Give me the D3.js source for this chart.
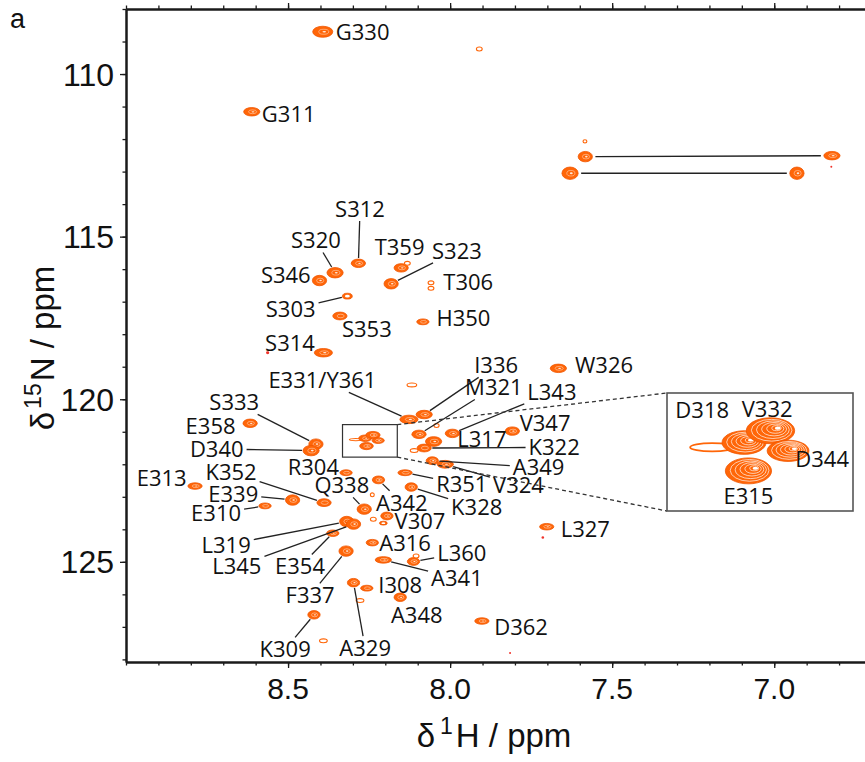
<!DOCTYPE html>
<html>
<head>
<meta charset="utf-8">
<script src="https://cdn.jsdelivr.net/npm/d3@7"></script>
<style>
body{margin:0;background:#fff}
svg{display:block}
</style>
</head>
<body>
<svg id="main-vis" width="865" height="762"></svg>
<script>
var width = 865, height = 762;
var margin = ({top: 9, right: 0, bottom: 100, left: 126});

// peaks: [name, 1H ppm, 15N ppm, half width 1H (ppm), half width 15N (ppm), contour level]
// level: -1 tiny red, 0 open contour, 1 ring, 2-4 filled with inner contours
var peaks = [
  ["G330", 8.393, 108.70, 0.031, 0.17, 3],
  ["u1", 7.910, 109.23, 0.009, 0.06, 0],
  ["G311", 8.612, 111.16, 0.025, 0.13, 3],
  ["u2", 7.584, 112.07, 0.006, 0.05, 0],
  ["sc1a", 7.583, 112.54, 0.022, 0.16, 3],
  ["sc2a", 7.630, 113.05, 0.025, 0.19, 3],
  ["sc1b", 6.822, 112.51, 0.025, 0.13, 3],
  ["u3", 6.824, 112.85, 0.003, 0.03, -1],
  ["sc2b", 6.930, 113.05, 0.022, 0.19, 3],
  ["S312", 8.283, 115.82, 0.022, 0.13, 3],
  ["S320", 8.355, 116.11, 0.025, 0.16, 3],
  ["S346", 8.403, 116.35, 0.022, 0.16, 3],
  ["T359", 8.151, 115.96, 0.022, 0.13, 3],
  ["u4", 8.132, 115.82, 0.009, 0.06, 0],
  ["S323", 8.182, 116.45, 0.022, 0.16, 3],
  ["T306", 8.059, 116.42, 0.009, 0.06, 0],
  ["u5", 8.059, 116.59, 0.009, 0.06, 0],
  ["S303", 8.317, 116.83, 0.015, 0.09, 1],
  ["S353", 8.340, 117.44, 0.022, 0.12, 2],
  ["H350", 8.084, 117.62, 0.019, 0.09, 2],
  ["S314", 8.391, 118.57, 0.028, 0.13, 3],
  ["u6", 8.563, 118.57, 0.005, 0.045, -1],
  ["u7", 8.118, 119.56, 0.015, 0.06, 0],
  ["E331", 8.127, 120.62, 0.028, 0.13, 3],
  ["I336", 8.080, 120.47, 0.025, 0.13, 3],
  ["u8", 8.042, 120.81, 0.008, 0.06, 0],
  ["M321", 8.096, 121.08, 0.022, 0.13, 3],
  ["L317", 7.993, 121.05, 0.022, 0.13, 3],
  ["V347", 7.808, 120.98, 0.022, 0.13, 3],
  ["u9", 8.051, 121.30, 0.025, 0.15, 3],
  ["K322", 8.080, 121.50, 0.022, 0.12, 2],
  ["u10", 8.111, 121.58, 0.012, 0.06, 0],
  ["A349", 8.055, 121.89, 0.019, 0.12, 3],
  ["V324", 8.015, 122.00, 0.025, 0.12, 3],
  ["W326", 7.666, 119.05, 0.025, 0.13, 3],
  ["S333", 8.414, 121.38, 0.022, 0.16, 3],
  ["D340", 8.429, 121.58, 0.025, 0.16, 3],
  ["E358", 8.617, 120.74, 0.022, 0.13, 3],
  ["R304", 8.321, 122.26, 0.019, 0.09, 2],
  ["E313", 8.787, 122.67, 0.022, 0.10, 3],
  ["K352", 8.389, 123.18, 0.022, 0.12, 2],
  ["E339", 8.486, 123.10, 0.022, 0.16, 3],
  ["Q338", 8.265, 123.38, 0.022, 0.16, 3],
  ["A342", 8.221, 122.48, 0.019, 0.12, 3],
  ["u11", 8.240, 122.94, 0.006, 0.06, 0],
  ["R351", 8.139, 122.26, 0.022, 0.09, 2],
  ["K328", 8.120, 122.70, 0.019, 0.13, 3],
  ["E310", 8.571, 123.28, 0.019, 0.09, 2],
  ["V307", 8.195, 123.59, 0.019, 0.12, 3],
  ["u12", 8.237, 123.69, 0.009, 0.06, 0],
  ["u13", 8.206, 123.81, 0.012, 0.06, 1],
  ["L319", 8.319, 123.76, 0.022, 0.16, 3],
  ["L345", 8.298, 123.84, 0.022, 0.16, 3],
  ["E354", 8.362, 124.12, 0.019, 0.10, 3],
  ["A316", 8.240, 124.41, 0.019, 0.10, 3],
  ["F337", 8.321, 124.67, 0.022, 0.16, 3],
  ["L360", 8.113, 124.99, 0.019, 0.12, 3],
  ["u14", 8.105, 124.82, 0.009, 0.06, 0],
  ["A341", 8.206, 124.94, 0.025, 0.10, 3],
  ["A329", 8.298, 125.64, 0.019, 0.13, 3],
  ["I308", 8.257, 125.81, 0.019, 0.09, 2],
  ["u15", 8.278, 126.19, 0.012, 0.06, 0],
  ["A348", 8.154, 126.09, 0.019, 0.13, 3],
  ["K309", 8.420, 126.63, 0.019, 0.13, 3],
  ["u16", 8.391, 127.43, 0.012, 0.06, 0],
  ["D362", 7.902, 126.82, 0.022, 0.10, 3],
  ["L327", 7.702, 123.92, 0.022, 0.10, 3],
  ["u17", 7.714, 124.25, 0.004, 0.04, -1],
  ["u18", 7.815, 127.80, 0.003, 0.03, -1],
  ["u19", 8.291, 121.24, 0.020, 0.035, 0],
  ["D318", 8.262, 121.20, 0.020, 0.10, 4],
  ["V332", 8.238, 121.10, 0.022, 0.11, 4],
  ["D344", 8.222, 121.27, 0.019, 0.09, 4],
  ["E315", 8.258, 121.44, 0.021, 0.11, 4]
];

// assignment labels: [text, 1H ppm, 15N ppm, peak pointed at]
var labels = [
  ["G330", 8.270, 108.72, null],
  ["G311", 8.498, 111.23, null],
  ["S312", 8.278, 114.15, "S312"],
  ["S320", 8.414, 115.12, "S320"],
  ["S346", 8.507, 116.19, null],
  ["T359", 8.156, 115.33, null],
  ["S323", 7.979, 115.44, "S323"],
  ["T306", 7.944, 116.41, null],
  ["S303", 8.492, 117.23, "S303"],
  ["S353", 8.257, 117.84, null],
  ["H350", 7.959, 117.49, null],
  ["S314", 8.494, 118.26, null],
  ["E331/Y361", 8.394, 119.42, "E331"],
  ["I336", 7.858, 118.96, "I336"],
  ["M321", 7.865, 119.64, "M321"],
  ["L343", 7.686, 119.79, "L317"],
  ["V347", 7.707, 120.72, null],
  ["L317", 7.902, 121.22, null],
  ["K322", 7.679, 121.48, "K322"],
  ["A349", 7.727, 122.10, "A349"],
  ["V324", 7.789, 122.65, "V324"],
  ["R351", 7.964, 122.61, "R351"],
  ["K328", 7.918, 123.33, "K328"],
  ["W326", 7.525, 118.96, null],
  ["L327", 7.583, 123.99, null],
  ["S333", 8.666, 120.10, "S333"],
  ["E358", 8.739, 120.81, null],
  ["D340", 8.720, 121.53, "D340"],
  ["R304", 8.422, 122.10, null],
  ["E313", 8.890, 122.41, null],
  ["K352", 8.676, 122.25, "K352"],
  ["E339", 8.669, 122.91, "E339"],
  ["Q338", 8.334, 122.65, "Q338"],
  ["A342", 8.149, 123.18, "A342"],
  ["E310", 8.722, 123.51, "E310"],
  ["V307", 8.093, 123.74, null],
  ["L319", 8.691, 124.48, "L319"],
  ["L345", 8.658, 125.14, "L345"],
  ["E354", 8.463, 125.14, "E354"],
  ["A316", 8.139, 124.41, null],
  ["F337", 8.432, 126.03, "F337"],
  ["L360", 7.964, 124.73, "L360"],
  ["A341", 7.979, 125.51, "A341"],
  ["A329", 8.262, 127.65, "A329"],
  ["I308", 8.154, 125.71, null],
  ["A348", 8.103, 126.65, null],
  ["K309", 8.509, 127.69, "K309"],
  ["D362", 7.781, 127.02, null]
];

// side chain NH2 pairs joined by lines
var pairs = [["sc1a", "sc1b"], ["sc2a", "sc2b"]];

// zoomed region and its labels
var boxH = [8.332, 8.163];
var boxN = [120.78, 121.78];
var insetLabels = [
  ["D318", 8.300, 120.927],
  ["V332", 8.241, 120.915],
  ["D344", 8.191, 121.343],
  ["E315", 8.258, 121.653]
];

var xDomain = [9.0, 6.72];
var yDomain = [108, 128.08];
var xMajor = [8.5, 8.0, 7.5, 7.0];
var xMinor = [9.0, 8.9, 8.8, 8.7, 8.6, 8.5, 8.4, 8.3, 8.2, 8.1, 8.0, 7.9, 7.8, 7.7, 7.6, 7.5, 7.4, 7.3, 7.2, 7.1, 7.0, 6.9, 6.8];
var yMajor = [110, 115, 120, 125];
var yMinor = [108, 109, 110, 111, 112, 113, 114, 115, 116, 117, 118, 119, 120, 121, 122, 123, 124, 125, 126, 127, 128];

var ORANGE = "#ff6608";
var EDGE = "#f05500";
var LABEL_FONT = "'Open Sans', 'Noto Sans', sans-serif";
var AXIS_FONT = "'Liberation Sans', Arial, sans-serif";

var x = d3.scaleLinear().domain(xDomain).range([margin.left, width - margin.right]);
var y = d3.scaleLinear().domain(yDomain).range([margin.top, height - margin.bottom]);

var insetRect = {x: 667, y: 393, w: 186, h: 118};
var xi = d3.scaleLinear().domain(boxH).range([insetRect.x, insetRect.x + insetRect.w]);
var yi = d3.scaleLinear().domain(boxN).range([insetRect.y, insetRect.y + insetRect.h]);

var peakByName = {};
peaks.forEach(function(p){ peakByName[p[0]] = p; });

var svg = d3.select('#main-vis');
svg.append('rect').attr('width', width).attr('height', height).attr('fill', '#fff');

var defs = svg.append('defs');
defs.append('clipPath').attr('id', 'plotclip').append('rect')
  .attr('x', x.range()[0]).attr('y', y.range()[0])
  .attr('width', x.range()[1] - x.range()[0]).attr('height', y.range()[1] - y.range()[0]);
defs.append('clipPath').attr('id', 'insetclip').append('rect')
  .attr('x', insetRect.x).attr('y', insetRect.y).attr('width', insetRect.w).attr('height', insetRect.h);

function radii(p, xs, ys){
  var cx = xs(p[1]), cy = ys(p[2]);
  return [cx, cy, Math.abs(xs(p[1] + p[3]) - cx), Math.abs(ys(p[2] + p[4]) - cy)];
}

function drawPeak(g, p, xs, ys, big){
  var r = radii(p, xs, ys), cx = r[0], cy = r[1], rx = r[2], ry = r[3];
  var lvl = p[5];
  if (lvl < 0) {
    g.append('ellipse').attr('cx', cx).attr('cy', cy).attr('rx', Math.max(rx, 1)).attr('ry', Math.max(ry, 1))
      .attr('fill', '#f0322a');
    return;
  }
  if (lvl === 0) {
    g.append('ellipse').attr('cx', cx).attr('cy', cy).attr('rx', rx).attr('ry', ry)
      .attr('fill', '#fff').attr('stroke', ORANGE).attr('stroke-width', big ? 1.8 : 1.1);
    return;
  }
  g.append('ellipse').attr('cx', cx).attr('cy', cy).attr('rx', rx).attr('ry', ry)
    .attr('fill', ORANGE).attr('stroke', EDGE).attr('stroke-width', 0.8);
  if (lvl === 1) {
    g.append('ellipse').attr('cx', cx).attr('cy', cy).attr('rx', rx * 0.5).attr('ry', ry * 0.45)
      .attr('fill', '#fff');
    return;
  }
  if (big) {
    // inset: many contour lines
    for (var k = 1; k <= 5; k++) {
      var f = 1 - k / 6.2;
      g.append('ellipse').attr('cx', cx + rx * 0.05 * k).attr('cy', cy - ry * 0.04 * k)
        .attr('rx', rx * f).attr('ry', ry * f)
        .attr('fill', 'none').attr('stroke', '#fff').attr('stroke-width', 0.9).attr('stroke-opacity', 0.75);
    }
    g.append('ellipse').attr('cx', cx + rx * 0.3).attr('cy', cy - ry * 0.2)
      .attr('rx', rx * 0.12).attr('ry', ry * 0.12).attr('fill', '#fff');
    return;
  }
  g.append('ellipse').attr('cx', cx + rx * 0.1).attr('cy', cy)
    .attr('rx', rx * 0.5).attr('ry', ry * 0.45)
    .attr('fill', 'none').attr('stroke', '#fff').attr('stroke-width', 0.6).attr('stroke-opacity', 0.7);
  if (lvl >= 3) {
    g.append('ellipse').attr('cx', cx + rx * 0.15).attr('cy', cy)
      .attr('rx', rx * 0.18).attr('ry', ry * 0.15).attr('fill', '#fff').attr('fill-opacity', 0.85);
  }
}

// peaks in the main spectrum
var peakLayer = svg.append('g').attr('clip-path', 'url(#plotclip)');
peaks.forEach(function(p){ drawPeak(peakLayer, p, x, y, false); });

// NH2 pair lines
function shorten(a, b, xs, ys, gap){
  var ra = radii(a, xs, ys), rb = radii(b, xs, ys);
  var dx = rb[0] - ra[0], dy = rb[1] - ra[1], L = Math.sqrt(dx * dx + dy * dy);
  var ux = dx / L, uy = dy / L;
  var ta = 1 / Math.sqrt(Math.pow(ux / ra[2], 2) + Math.pow(uy / ra[3], 2)) + gap;
  var tb = 1 / Math.sqrt(Math.pow(ux / rb[2], 2) + Math.pow(uy / rb[3], 2)) + gap;
  return [ra[0] + ux * ta, ra[1] + uy * ta, rb[0] - ux * tb, rb[1] - uy * tb];
}
pairs.forEach(function(pr){
  var s = shorten(peakByName[pr[0]], peakByName[pr[1]], x, y, 3);
  svg.append('line').attr('x1', s[0]).attr('y1', s[1]).attr('x2', s[2]).attr('y2', s[3])
    .attr('stroke', '#222').attr('stroke-width', 1.4);
});

// labels + leader lines
var FS = 22;
var labelLayer = svg.append('g');
labels.forEach(function(l){
  var lx = x(l[1]), ly = y(l[2]);
  var t = labelLayer.append('text').attr('x', lx).attr('y', ly + FS * 0.36)
    .attr('text-anchor', 'middle').attr('font-family', LABEL_FONT).attr('font-size', FS)
    .attr('fill', '#111').text(l[0]);
  if (l[3]) {
    var w = t.node().getBBox().width;
    var p = peakByName[l[3]];
    var r = radii(p, x, y);
    var dx = r[0] - lx, dy = r[1] - ly;
    var hw = w / 2 + 3, hh = FS * 0.36 + 4;
    var s = Math.min(hw / Math.max(Math.abs(dx), 1e-6), hh / Math.max(Math.abs(dy), 1e-6));
    var L = Math.sqrt(dx * dx + dy * dy), ux = dx / L, uy = dy / L;
    var te = 1 / Math.sqrt(Math.pow(ux / r[2], 2) + Math.pow(uy / r[3], 2)) + 1;
    labelLayer.append('line')
      .attr('x1', lx + dx * s).attr('y1', ly + dy * s)
      .attr('x2', r[0] - ux * te).attr('y2', r[1] - uy * te)
      .attr('stroke', '#222').attr('stroke-width', 1.3);
  }
});

// zoom box and connectors
var bx0 = x(boxH[0]), bx1 = x(boxH[1]), by0 = y(boxN[0]), by1 = y(boxN[1]);
svg.append('rect').attr('x', bx0).attr('y', by0).attr('width', bx1 - bx0).attr('height', by1 - by0)
  .attr('fill', 'none').attr('stroke', '#333').attr('stroke-width', 1.2);
[[bx1, by0, insetRect.x, insetRect.y], [bx1, by1, insetRect.x, insetRect.y + insetRect.h]].forEach(function(c){
  svg.append('line').attr('x1', c[0]).attr('y1', c[1]).attr('x2', c[2]).attr('y2', c[3])
    .attr('stroke', '#333').attr('stroke-width', 1.3).attr('stroke-dasharray', '4,3');
});

// inset
svg.append('rect').attr('x', insetRect.x).attr('y', insetRect.y).attr('width', insetRect.w).attr('height', insetRect.h)
  .attr('fill', '#fff');
var insetLayer = svg.append('g').attr('clip-path', 'url(#insetclip)');
peaks.forEach(function(p){ drawPeak(insetLayer, p, xi, yi, true); });
insetLabels.forEach(function(l){
  svg.append('text').attr('x', xi(l[1])).attr('y', yi(l[2]) + FS * 0.36)
    .attr('text-anchor', 'middle').attr('font-family', LABEL_FONT).attr('font-size', FS)
    .attr('fill', '#111').text(l[0]);
});
svg.append('rect').attr('x', insetRect.x).attr('y', insetRect.y).attr('width', insetRect.w).attr('height', insetRect.h)
  .attr('fill', 'none').attr('stroke', '#555').attr('stroke-width', 1.6);

// axes
function styleAxis(g){
  g.select('.domain').attr('stroke', '#1a1a1a').attr('stroke-width', 2);
  g.selectAll('.tick line').attr('stroke', '#1a1a1a').attr('stroke-width', 1.3);
  g.selectAll('.tick text').remove();
}
var yb = y.range()[1], yt = y.range()[0], xl = x.range()[0];
svg.append('g').attr('transform', 'translate(0,' + yb + ')')
  .call(d3.axisBottom(x).tickValues(xMinor).tickSize(3.5).tickSizeOuter(0)).call(styleAxis);
svg.append('g').attr('transform', 'translate(0,' + yb + ')')
  .call(d3.axisBottom(x).tickValues(xMajor).tickSize(6).tickSizeOuter(0)).call(styleAxis);
svg.append('g').attr('transform', 'translate(0,' + yt + ')')
  .call(d3.axisTop(x).tickValues(xMinor).tickSize(3.5).tickSizeOuter(0)).call(styleAxis);
svg.append('g').attr('transform', 'translate(0,' + yt + ')')
  .call(d3.axisTop(x).tickValues(xMajor).tickSize(6).tickSizeOuter(0)).call(styleAxis);
svg.append('g').attr('transform', 'translate(' + xl + ',0)')
  .call(d3.axisLeft(y).tickValues(yMinor).tickSize(3.5).tickSizeOuter(0)).call(styleAxis);
svg.append('g').attr('transform', 'translate(' + xl + ',0)')
  .call(d3.axisLeft(y).tickValues(yMajor).tickSize(6).tickSizeOuter(0)).call(styleAxis);

svg.selectAll('.xlab').data(xMajor).enter().append('text')
  .attr('x', function(d){ return x(d); }).attr('y', yb + 37)
  .attr('text-anchor', 'middle').attr('font-family', AXIS_FONT).attr('font-size', 30)
  .attr('fill', '#111').text(function(d){ return d.toFixed(1); });
svg.selectAll('.ylab').data(yMajor).enter().append('text')
  .attr('x', xl - 12).attr('y', function(d){ return y(d) + 11.5; })
  .attr('text-anchor', 'end').attr('font-family', AXIS_FONT).attr('font-size', 32)
  .attr('fill', '#111').text(function(d){ return d; });

// axis titles
var xt = svg.append('text').attr('x', 494).attr('y', 747).attr('text-anchor', 'middle')
  .attr('font-family', AXIS_FONT).attr('font-size', 33).attr('fill', '#111');
xt.append('tspan').text('δ');
xt.append('tspan').attr('dx', 5).attr('dy', -13).attr('font-size', 23).text('1');
xt.append('tspan').attr('dx', 3).attr('dy', 13).text('H / ppm');

var ytl = svg.append('text').attr('transform', 'translate(54,348) rotate(-90)').attr('text-anchor', 'middle')
  .attr('font-family', AXIS_FONT).attr('font-size', 33).attr('fill', '#111');
ytl.append('tspan').text('δ');
ytl.append('tspan').attr('dx', 3).attr('dy', -13).attr('font-size', 23).text('15');
ytl.append('tspan').attr('dx', 2).attr('dy', 13).text('N / ppm');

svg.append('text').attr('x', 10).attr('y', 28).attr('font-family', AXIS_FONT).attr('font-size', 27)
  .attr('fill', '#111').text('a');
</script>
</body>
</html>
